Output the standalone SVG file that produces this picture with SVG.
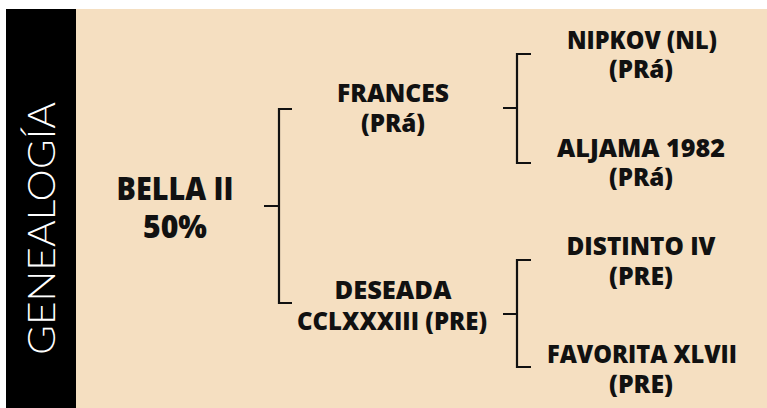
<svg xmlns="http://www.w3.org/2000/svg" width="767" height="408" viewBox="0 0 767 408">
<style>
.lbl{font-family:"Open Sans","Liberation Sans",sans-serif;font-weight:800;fill:#111;text-anchor:middle}
.m{font-size:24px}
.b{font-size:31px}
.br{fill:none;stroke:#111;stroke-width:2.2}
</style>
<rect x="0" y="0" width="767" height="408" fill="#fff"/>
<rect x="76" y="9" width="691" height="399" fill="#f5dfc1"/>
<g id="sidebar">
<rect x="6" y="9" width="70" height="399" fill="#000"/>
<text transform="translate(55,355) rotate(-90)" x="0" y="0" font-family="Lato,'Open Sans',sans-serif" font-weight="300" font-size="38" fill="#fff" textLength="253" lengthAdjust="spacingAndGlyphs">GENEALOGÍA</text>
</g>
<g id="connectors">
<path class="br" d="M264 206H279M292 109H279V303H292"/>
<path class="br" d="M503 108H518M531 54H517V163H531"/>
<path class="br" d="M503 314H518M531 260H517V367H531"/>
</g>
<g id="bella">
<text class="lbl b" x="175" y="200" textLength="117" lengthAdjust="spacingAndGlyphs">BELLA II</text>
<text class="lbl b" x="175" y="238" textLength="64" lengthAdjust="spacingAndGlyphs">50%</text>
</g>
<g id="frances">
<text class="lbl m" x="393" y="102" textLength="112" lengthAdjust="spacingAndGlyphs">FRANCES</text>
<text class="lbl m" x="393" y="132" textLength="64" lengthAdjust="spacingAndGlyphs">(PRá)</text>
</g>
<g id="deseada">
<text class="lbl m" x="393" y="299" textLength="117" lengthAdjust="spacingAndGlyphs">DESEADA</text>
<text class="lbl m" x="392" y="330" textLength="190" lengthAdjust="spacingAndGlyphs">CCLXXXIII (PRE)</text>
</g>
<g id="nipkov">
<text class="lbl m" x="642" y="49" textLength="150" lengthAdjust="spacingAndGlyphs">NIPKOV (NL)</text>
<text class="lbl m" x="641" y="78" textLength="64" lengthAdjust="spacingAndGlyphs">(PRá)</text>
</g>
<g id="aljama">
<text class="lbl m" x="641" y="157" textLength="168" lengthAdjust="spacingAndGlyphs">ALJAMA 1982</text>
<text class="lbl m" x="641" y="186" textLength="64" lengthAdjust="spacingAndGlyphs">(PRá)</text>
</g>
<g id="distinto">
<text class="lbl m" x="641" y="255" textLength="149" lengthAdjust="spacingAndGlyphs">DISTINTO IV</text>
<text class="lbl m" x="641" y="285" textLength="64" lengthAdjust="spacingAndGlyphs">(PRE)</text>
</g>
<g id="favorita">
<text class="lbl m" x="642" y="363" textLength="190" lengthAdjust="spacingAndGlyphs">FAVORITA XLVII</text>
<text class="lbl m" x="641" y="393" textLength="64" lengthAdjust="spacingAndGlyphs">(PRE)</text>
</g>
</svg>
